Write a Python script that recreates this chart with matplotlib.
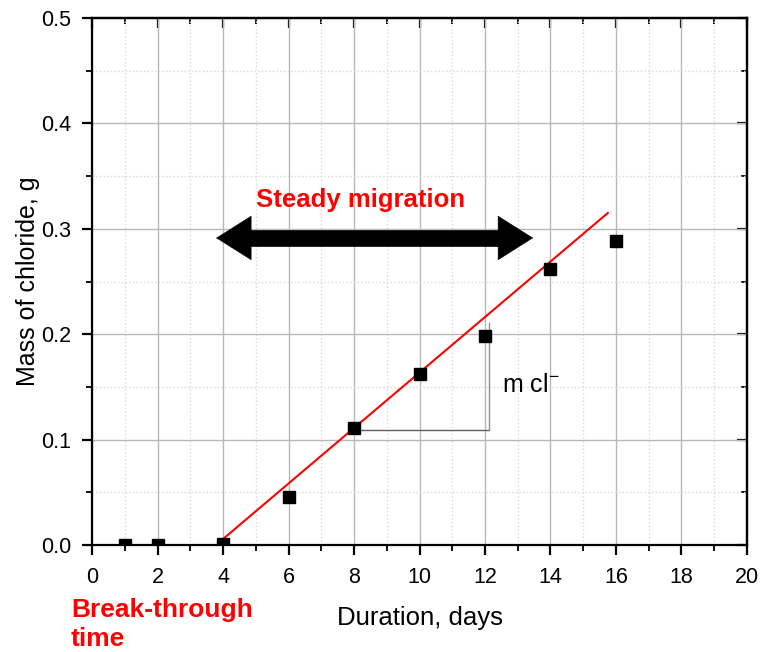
import matplotlib.pyplot as plt
from matplotlib.ticker import MultipleLocator, NullFormatter

plt.rcParams['font.family'] = ['Liberation Sans', 'DejaVu Sans']

# Measured data
days = [1, 2, 4, 6, 8, 10, 12, 14, 16]
mass = [0.0, 0.0, 0.001, 0.0455, 0.111, 0.162, 0.198, 0.262, 0.288]

# Linear fit line (steady migration region)
fit_x = [4.05, 15.75]
fit_y = [0.007, 0.315]

# Slope triangle
tri_x = [8, 12.12, 12.12]
tri_y = [0.109, 0.109, 0.211]

# Double arrow for the steady migration period
arrow_x = [3.79, 13.47]
arrow_y = 0.2913

fig = plt.figure(figsize=(7.61, 6.52), dpi=100)
ax = fig.add_axes([0.1209, 0.1641, 0.8607, 0.8083])

ax.set_xlim(0, 20)
ax.set_ylim(0, 0.5)
ax.xaxis.set_major_locator(MultipleLocator(2))
ax.xaxis.set_minor_locator(MultipleLocator(1))
ax.yaxis.set_major_locator(MultipleLocator(0.1))
ax.yaxis.set_minor_locator(MultipleLocator(0.05))
ax.yaxis.set_major_formatter(plt.FormatStrFormatter('%.1f'))

ax.grid(which='major', color='#b8b8b8', linewidth=1.0)
ax.grid(which='minor', color='#d8d8d8', linestyle=':', linewidth=1.0)
ax.set_axisbelow(True)

for s in ax.spines.values():
    s.set_linewidth(1.6)
ax.tick_params(which='major', direction='out', length=7, width=1.6, labelsize=15.5)
ax.tick_params(which='minor', direction='out', length=4, width=1.3)
ax.tick_params(axis='x', which='major', pad=9)
ax.tick_params(axis='y', which='major', pad=8)

# inward ticks on top and right
top = ax.secondary_xaxis('top')
top.xaxis.set_major_locator(MultipleLocator(2))
top.xaxis.set_minor_locator(MultipleLocator(1))
top.xaxis.set_major_formatter(NullFormatter())
top.tick_params(which='major', direction='in', length=7, width=1.6)
top.tick_params(which='minor', direction='in', length=4, width=1.3)
top.spines['top'].set_linewidth(1.6)
right = ax.secondary_yaxis('right')
right.yaxis.set_major_locator(MultipleLocator(0.1))
right.yaxis.set_minor_locator(MultipleLocator(0.05))
right.yaxis.set_major_formatter(NullFormatter())
right.tick_params(which='major', direction='in', length=7, width=1.6)
right.tick_params(which='minor', direction='in', length=4, width=1.3)
right.spines['right'].set_linewidth(1.6)

ax.plot(tri_x[:2], tri_y[:2], color='#606060', linewidth=1.0, zorder=2)
ax.plot(tri_x[1:], tri_y[1:], color='#909090', linewidth=1.0, zorder=2)
ax.plot(fit_x, fit_y, color='red', linewidth=1.5, zorder=3)
ax.plot(days, mass, linestyle='none', marker='s', markersize=8, color='black', zorder=4)

# arrow: thick shaft plus filled heads
ax.plot([arrow_x[0] + 0.45, arrow_x[1] - 0.45], [arrow_y, arrow_y], color='black',
        linewidth=12, solid_capstyle='butt', zorder=3)
ax.annotate('', xy=(arrow_x[0], arrow_y), xytext=(arrow_x[1], arrow_y),
            arrowprops=dict(arrowstyle='<|-|>,head_length=0.95,head_width=0.6',
                            mutation_scale=26, color='black', linewidth=0.5,
                            shrinkA=0, shrinkB=0), zorder=3)
ax.text(8.21, 0.3207, 'Steady migration', color='red', fontsize=18.5, fontweight='bold',
        ha='center', va='baseline')
ax.text(12.52, 0.145, r'm cl$^{\mathregular{-}}$', fontsize=18, ha='left', va='baseline')

ax.set_xlabel('Duration, days', fontsize=18.5, labelpad=13)
ax.set_ylabel('Mass of chloride, g', fontsize=18, labelpad=1)

fig.text(71 / 761, 1 - 617 / 652, 'Break-through', color='red', fontsize=19,
         fontweight='bold', ha='left', va='baseline')
fig.text(71 / 761, 1 - 646 / 652, 'time', color='red', fontsize=19,
         fontweight='bold', ha='left', va='baseline')

fig.savefig('out.png', dpi=100)
